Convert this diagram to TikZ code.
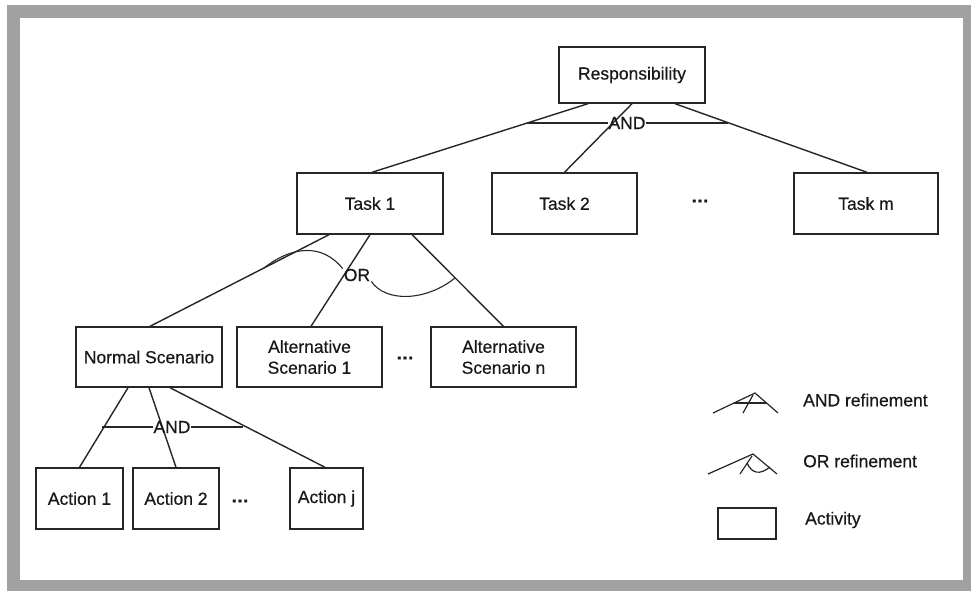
\documentclass[tikz,border=0pt]{standalone}
\usepackage{fontspec}
\setmainfont{Liberation Sans}[FakeBold=0.5]
\usetikzlibrary{calc}
\begin{document}
\begin{tikzpicture}[x=1pt,y=-1pt,
  ink/.style={draw=black!85,line width=1.4pt},
  activity/.style={ink,rectangle,inner sep=0pt,align=center,
    font=\fontsize{17.5}{21}\selectfont,text=black!90},
  lbl/.style={inner sep=0pt,font=\fontsize{17.5}{21}\selectfont,text=black!90},
  dots/.style={lbl,font=\fontsize{18}{21}\selectfont\bfseries},
  link/.style={ink}]
% page and grey frame
\useasboundingbox (0,0) rectangle (974,592);
\fill[white] (0,0) rectangle (974,592);
\fill[black!37] (7,5) rectangle (971,591);
\fill[white] (20,18) rectangle (963,580);

% activities
\node[activity,minimum width=146pt,minimum height=56pt] (resp) at (632,75) {Responsibility};
\node[activity,minimum width=146pt,minimum height=61pt] (t1) at (370,203.5) {Task 1};
\node[activity,minimum width=145pt,minimum height=61pt] (t2) at (564.5,203.5) {Task 2};
\node[activity,minimum width=144pt,minimum height=61pt] (tm) at (866,203.5) {Task m};
\node[dots] (dotsT) at (700,201) {\ldots};

\node[activity,minimum width=146pt,minimum height=60pt] (ns) at (149,357) {Normal Scenario};
\node[activity,minimum width=145pt,minimum height=60pt] (a1) at (309.5,357) {Alternative\\Scenario 1};
\node[activity,minimum width=145pt,minimum height=60pt] (an) at (503.5,357) {Alternative\\Scenario n};
\node[dots] (dotsS) at (405,358) {\ldots};

\node[activity,minimum width=87pt,minimum height=61pt] (c1) at (79.5,498.5) {Action 1};
\node[activity,minimum width=86pt,minimum height=61pt] (c2) at (176,498.5) {Action 2};
\node[activity,minimum width=73pt,minimum height=61pt] (cj) at (326.5,498.5) {Action j};
\node[dots] (dotsA) at (240,501) {\ldots};

% AND refinement of the responsibility
\draw[link] ([xshift=-44pt]resp.south) -- ([xshift=2pt]t1.north);
\draw[link] (resp.south) -- (t2.north);
\draw[link] ([xshift=43pt]resp.south) -- ([xshift=1pt]tm.north);
\node[lbl] (and1) at (627,123) {AND};
\coordinate (and1l) at (527,123);
\coordinate (and1r) at (728,123);
\draw[ink,line width=1.1pt] (and1l) -- (and1.west);
\draw[ink,line width=1.1pt] (and1.east) -- (and1r);

% OR refinement of task 1
\draw[link] ([xshift=-41pt]t1.south) -- ([xshift=1pt]ns.north);
\draw[link] (t1.south) -- ([xshift=1.5pt]a1.north);
\draw[link] ([xshift=42pt]t1.south) -- (an.north);
\node[lbl] (or1) at (357,275) {OR};
\draw[ink,line width=1.1pt] (264,268) .. controls (292,246) and (322,243) .. ([xshift=-1pt]or1.north west);
\draw[ink,line width=1.1pt] ([xshift=1pt]or1.south east) .. controls (385,302) and (425,302) .. (455,278);

% AND refinement of the normal scenario
\draw[link] ([xshift=-21pt]ns.south) -- (c1.north);
\draw[link] (ns.south) -- (c2.north);
\draw[link] ([xshift=21pt]ns.south) -- ([xshift=-1.5pt]cj.north);
\node[lbl] (and2) at (172,427) {AND};
\coordinate (and2l) at (102,427);
\coordinate (and2r) at (243,427);
\draw[ink,line width=1.1pt] (and2l) -- (and2.west);
\draw[ink,line width=1.1pt] (and2.east) -- (and2r);

% legend
\draw[ink,line width=1.2pt] (713,413) -- (755,393) -- (778,413);
\draw[ink,line width=1.2pt] (753,395) -- (743,413);
\draw[ink,line width=1.2pt] (734,403) -- (767,403);
\node[lbl,anchor=west] (lgand) at (803,400) {AND refinement};

\draw[ink,line width=1.2pt] (708,474) -- (753,454) -- (777,474);
\draw[ink,line width=1.2pt] (752,456) -- (740,474);
\draw[ink,line width=1.2pt] (747,463) .. controls (752,474) and (760,475) .. (770,467);
\node[lbl,anchor=west] (lgor) at (803,461) {OR refinement};

\node[activity,minimum width=58pt,minimum height=31pt] (lgbox) at (747,523.5) {};
\node[lbl,anchor=west] (lgact) at (805,520) {Activity};
\end{tikzpicture}
\end{document}
